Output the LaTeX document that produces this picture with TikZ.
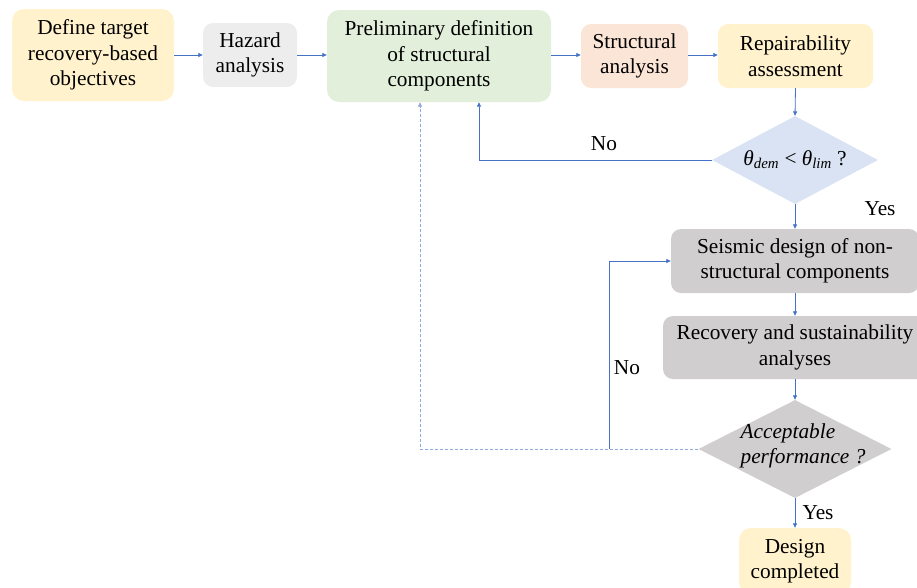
\documentclass[tikz,border=0pt]{standalone}
\usepackage{fontspec}
\setmainfont{Liberation Serif}
\usetikzlibrary{arrows.meta,shapes.geometric}
\definecolor{cyel}{HTML}{FFF2CC}
\definecolor{cgray}{HTML}{EDEDED}
\definecolor{cgreen}{HTML}{E2EFDA}
\definecolor{corange}{HTML}{FBE5D6}
\definecolor{cblue}{HTML}{DAE3F3}
\definecolor{cdark}{HTML}{D0CECE}
\definecolor{carrow}{HTML}{4472C4}
\definecolor{cdash}{HTML}{8FAADC}
\begin{document}
\begin{tikzpicture}[x=1pt,y=1pt,
  every node/.style={font=\fontsize{21.3}{25.5}\selectfont},
  box/.style={rounded corners=12pt, inner sep=0pt, align=center, draw=none},
  dia/.style={diamond, inner sep=0pt, draw=none},
  conn/.style={draw=carrow, line width=0.8pt, -{Triangle[length=4.5pt,width=4pt]}},
  dashconn/.style={draw=cdash, line width=0.8pt, dash pattern=on 3pt off 2pt},
  lbl/.style={inner sep=0pt}
]
\clip (0,0) rectangle (917,-587);
\useasboundingbox (0,0) rectangle (917,-587);

\node[box, fill=cyel, minimum width=162pt, minimum height=92pt] (def) at (93,-55) {Define target\\recovery-based\\objectives};
\node[box, fill=cgray, rounded corners=10pt, minimum width=94pt, minimum height=64pt] (haz) at (250,-55) {Hazard\\analysis};
\node[box, fill=cgreen, minimum width=224pt, minimum height=92pt] (pre) at (439,-56) {Preliminary definition\\of structural\\components};
\node[box, fill=corange, rounded corners=10pt, minimum width=107pt, minimum height=64pt] (str) at (634.5,-56) {Structural\\analysis};
\node[box, fill=cyel, rounded corners=10pt, minimum width=155pt, minimum height=64pt] (rep) at (795.5,-56) {Repairability\\assessment};

\node[dia, fill=cblue, minimum width=166pt, minimum height=88pt] (d1) at (795,-160) {};
\node[lbl] (d1t) at (795,-160) {\textit{θ}\textsubscript{\textit{dem}} < \textit{θ}\textsubscript{\textit{lim}} ?};

\node[box, fill=cdark, rounded corners=10pt, minimum width=248pt, minimum height=64pt] (sei) at (795,-261) {Seismic design of non-\\structural components};
\node[box, fill=cdark, rounded corners=10pt, minimum width=264pt, minimum height=63pt] (rec) at (795,-347.5) {Recovery and sustainability\\analyses};

\node[dia, fill=cdark, minimum width=193pt, minimum height=98pt] (d2) at (795,-449) {};
\node[lbl, align=left] (d2t) at (803,-446) {\textit{Acceptable}\\\textit{performance ?}};

\node[box, fill=cyel, rounded corners=12pt, minimum width=112pt, minimum height=66pt] (des) at (795,-561) {Design\\completed};

\draw[conn] (def.east |- 0,-55) -- (haz.west |- 0,-55);
\draw[conn] (haz.east |- 0,-55) -- (pre.west |- 0,-55);
\draw[conn] (pre.east |- 0,-55) -- (str.west |- 0,-55);
\draw[conn] (str.east |- 0,-55) -- (rep.west |- 0,-55);
\draw[conn] (rep.south) -- (d1.north);
\draw[conn] (d1.west) -| (pre.south -| 479,0);
\draw[conn] (d1.south) -- (sei.north);
\draw[conn] (sei.south) -- (rec.north);
\draw[conn] (rec.south) -- (d2.north);
\draw[conn] (d2.south) -- (des.north);

\coordinate (nx) at (609,-449);
\coordinate (dc) at (420,-449);
\draw[dashconn] (d2.west) -- (dc) -- (420,-106);
\draw[draw=cdash, line width=0.8pt, -{Triangle[length=4.5pt,width=4pt]}] (420,-107) -- (pre.south -| dc);
\draw[conn] (nx) |- (sei.west);

\node[lbl] (no1) at (604,-144) {No};
\node[lbl] (yes1) at (880,-209) {Yes};
\node[lbl] (no2) at (627,-368) {No};
\node[lbl] (yes2) at (818,-513) {Yes};
\end{tikzpicture}
\end{document}
